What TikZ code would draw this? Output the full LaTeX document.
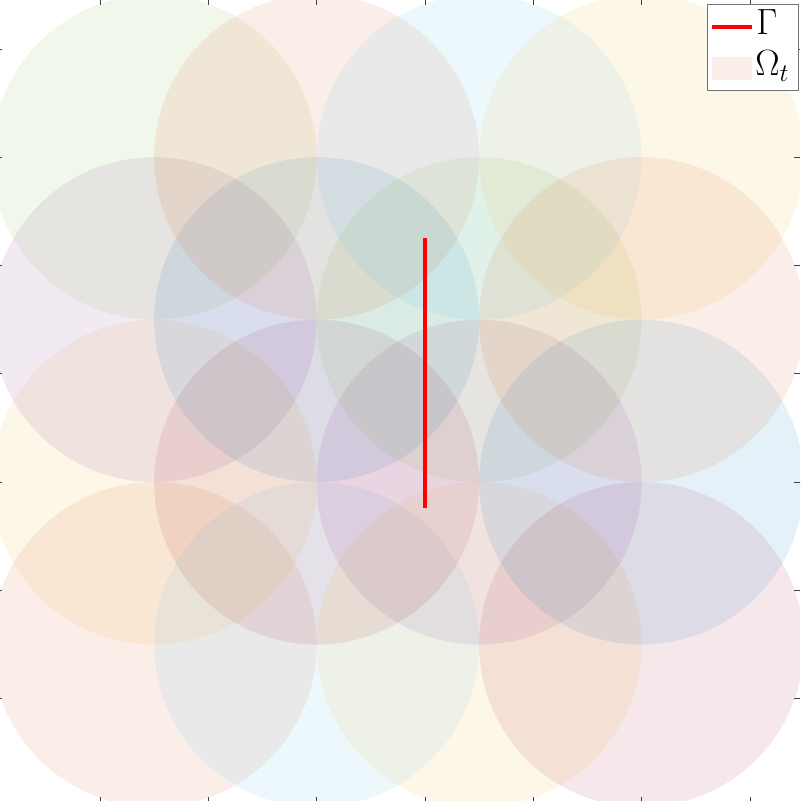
\documentclass[tikz,border=0pt]{standalone}
\usepackage{amsmath,amssymb}
\usepackage{xcolor}
\usepackage{tikz}
\usetikzlibrary{positioning}

% plot colour order
\definecolor{mc1}{rgb}{0,0.447,0.741}
\definecolor{mc2}{rgb}{0.850,0.325,0.098}
\definecolor{mc3}{rgb}{0.929,0.694,0.125}
\definecolor{mc4}{rgb}{0.494,0.184,0.556}
\definecolor{mc5}{rgb}{0.466,0.674,0.188}
\definecolor{mc6}{rgb}{0.301,0.745,0.933}
\definecolor{mc7}{rgb}{0.635,0.078,0.184}

\begin{document}
\begin{tikzpicture}[
    x=10.83cm, y=10.83cm,
    disc/.style={fill=#1, fill opacity=0.1, draw=none},
    gammaline/.style={draw=red, line width=1.8pt},
    axtick/.style={draw=black!75, line width=0.35pt},
    legendbox/.style={draw=black!55, fill=white, line width=0.4pt},
    legendtext/.style={font=\fontsize{21}{25}\selectfont, anchor=base west, inner sep=0pt}
]
\clip (0.0153,0.0111) rectangle (1.4927,1.4903);

% Subdomains: 4x4 discs of radius 0.3
\foreach \i in {1,...,4}{
  \foreach \j in {1,...,4}{
    \pgfmathtruncatemacro{\ci}{mod((\i-1)*4+\j,7)+1}
    \fill[disc=mc\ci] (0.3*\i,0.3*\j) circle (0.3);
  }
}

% Interface
\draw[gammaline] (0.8,0.552) -- (0.8,1.051);

% Ticks on all four sides
\foreach \k in {1,...,7}{
  \draw[axtick] (0.2*\k,0) -- ++(0,0.019);
  \draw[axtick] (0.2*\k,1.5) -- ++(0,-0.019);
  \draw[axtick] (0,0.2*\k) -- ++(0.019,0);
  \draw[axtick] (1.5,0.2*\k) -- ++(-0.019,0);
}

% Legend
\draw[legendbox] (1.3210,1.3241) rectangle (1.4890,1.4829);
\draw[gammaline] (1.3302,1.4404) -- (1.4040,1.4404);
\node[legendtext] (lgamma) at (1.4114,1.4257) {$\Gamma$};
\fill[disc=mc2] (1.3302,1.3426) rectangle (1.4040,1.3850);
\node[legendtext] (lomega) at (1.4096,1.3500) {$\Omega_t$};

\end{tikzpicture}
\end{document}
